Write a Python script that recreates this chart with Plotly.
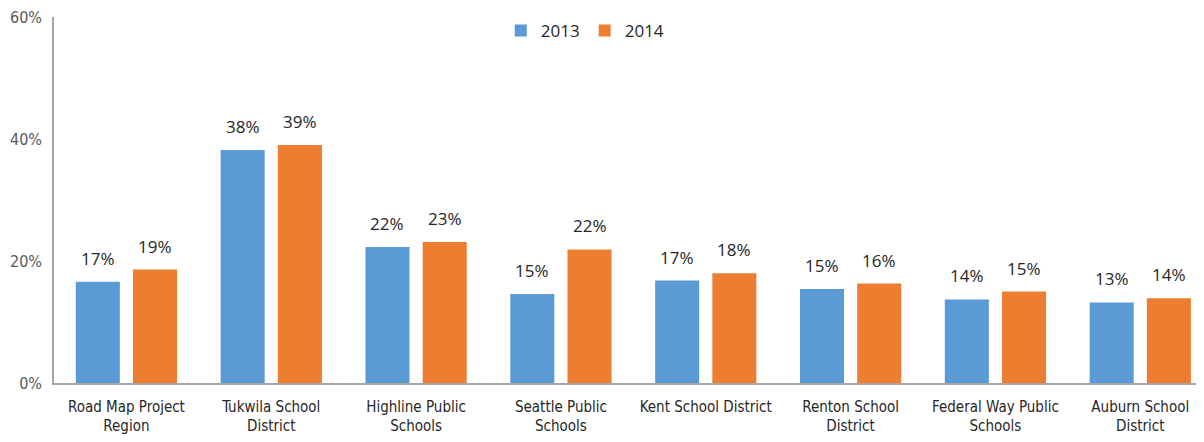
import plotly.graph_objects as go

categories = ["Road Map Project<br>Region", "Tukwila School<br>District", "Highline Public<br>Schools",
              "Seattle Public<br>Schools", "Kent School District", "Renton School<br>District",
              "Federal Way Public<br>Schools", "Auburn School<br>District"]
values_2013 = [0.166, 0.382, 0.223, 0.146, 0.168, 0.154, 0.137, 0.132]
values_2014 = [0.186, 0.390, 0.231, 0.219, 0.180, 0.163, 0.150, 0.139]
series_names = ["2013", "2014"]
colors = ["#5B9BD5", "#ED7D31"]

narrow = "Liberation Sans Narrow, DejaVu Sans Condensed, Arial Narrow, sans-serif"
label_font = dict(family="Open Sans, Lato, sans-serif", size=17, color="#262626")

BARGAP, GROUPGAP = 0.21, 0.23
slot = (1 - BARGAP) / 2

fig = go.Figure()
for k, (name, vals, col) in enumerate(zip(series_names, [values_2013, values_2014], colors)):
    fig.add_trace(go.Bar(
        x=categories, y=vals, name=name, marker=dict(color=col, line=dict(width=0)),
        hoverinfo="x+y+name",
    ))
    offset = (k - 0.5) * slot
    for i, v in enumerate(vals):
        fig.add_annotation(x=i + offset, y=v, xref="x", yref="y", text=f"{v:.0%}",
                           showarrow=False, yanchor="bottom", yshift=10, font=label_font)

fig.update_layout(
    width=1196, height=434,
    margin=dict(l=46, r=0, t=9, b=59, autoexpand=False),
    paper_bgcolor="white", plot_bgcolor="white",
    barmode="group", bargap=BARGAP, bargroupgap=GROUPGAP,
    showlegend=True,
    legend=dict(orientation="h", x=0.462, xanchor="center", y=0.962, yanchor="middle",
                font=label_font, itemwidth=30, traceorder="normal"),
    xaxis=dict(range=[-0.5, 7.44], showline=True, linecolor="#A6A6A6", linewidth=1.5,
               ticks="", showgrid=False, automargin=False, ticklabelstandoff=9,
               tickfont=dict(family=narrow, size=15, color="#262626")),
    yaxis=dict(range=[0, 0.6], tickvals=[0, 0.2, 0.4, 0.6], tickformat=".0%",
               showline=True, linecolor="#A6A6A6", linewidth=1.5, showgrid=False, zeroline=False,
               ticks="", ticklabelstandoff=7, automargin=False, ticklabeloverflow="allow",
               tickfont=dict(family=narrow, size=16, color="#595959")),
)

fig.write_html("out.html")
